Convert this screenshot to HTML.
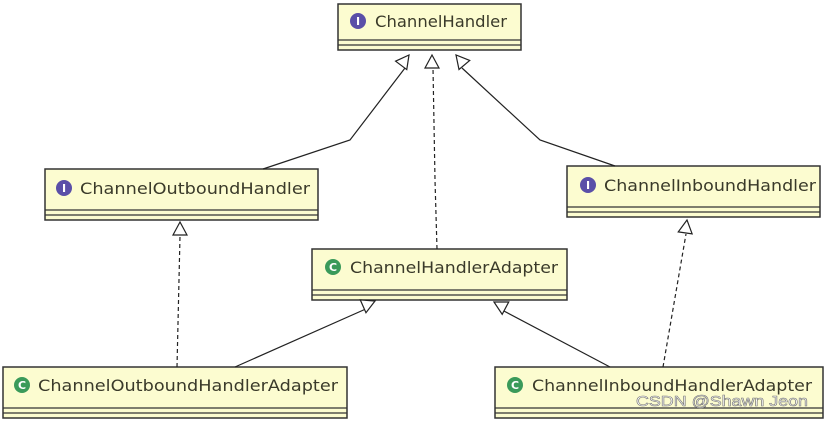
<!DOCTYPE html>
<html><head><style>
body{margin:0;background:#fff;width:827px;height:420px;overflow:hidden}
text{font-family:"DejaVu Sans","Liberation Sans",sans-serif;font-size:16px;fill:#3a3a2a}
</style></head><body>
<svg width="827" height="420" viewBox="0 0 827 420" xmlns="http://www.w3.org/2000/svg">
<defs>
<g id="tri"><polygon points="0,0 -7,13 7,13" fill="#fff" stroke="#222" stroke-width="1.2"/></g>
</defs>
<g fill="#fcfcd0" stroke="#333" stroke-width="1.5">
<rect x="338" y="4" width="183" height="46"/>
<rect x="45" y="169" width="273" height="51"/>
<rect x="567" y="166" width="253" height="51"/>
<rect x="312" y="249" width="255" height="51"/>
<rect x="3" y="367" width="344" height="51"/>
<rect x="495" y="367" width="328" height="51"/>
</g>
<g stroke="#333" stroke-width="1.3">
<line x1="338" y1="40" x2="521" y2="40"/><line x1="338" y1="45" x2="521" y2="45"/>
<line x1="45" y1="210" x2="318" y2="210"/><line x1="45" y1="215" x2="318" y2="215"/>
<line x1="567" y1="207" x2="820" y2="207"/><line x1="567" y1="212" x2="820" y2="212"/>
<line x1="312" y1="290" x2="567" y2="290"/><line x1="312" y1="295" x2="567" y2="295"/>
<line x1="3" y1="408" x2="347" y2="408"/><line x1="3" y1="413" x2="347" y2="413"/>
<line x1="495" y1="408" x2="823" y2="408"/><line x1="495" y1="413" x2="823" y2="413"/>
</g>
<g stroke="#222" stroke-width="1.2" fill="none">
<polyline points="263,169 350,140 405,68"/>
<polyline points="437,249 435,180 433,68" stroke-dasharray="4,3"/>
<polyline points="615,166 540,140 462,68"/>
<line x1="177" y1="367" x2="180" y2="236" stroke-dasharray="4,3"/>
<line x1="235" y1="367" x2="368" y2="308"/>
<line x1="610" y1="367" x2="502" y2="310"/>
<line x1="663" y1="367" x2="686" y2="234" stroke-dasharray="4,3"/>
</g>
<use href="#tri" transform="translate(409,55) rotate(37)"/>
<use href="#tri" transform="translate(432,55)"/>
<use href="#tri" transform="translate(456,55) rotate(-40)"/>
<use href="#tri" transform="translate(180,222)"/>
<use href="#tri" transform="translate(687,220) rotate(8)"/>
<use href="#tri" transform="translate(375,301) rotate(66)"/>
<use href="#tri" transform="translate(494,302) rotate(-62)"/>
<g text-anchor="middle">
<circle cx="358" cy="21" r="8" fill="#5a4fa8"/><text x="358" y="25" style="fill:#fff;font-size:11px;font-weight:bold">I</text>
<circle cx="64" cy="188" r="8" fill="#5a4fa8"/><text x="64" y="192" style="fill:#fff;font-size:11px;font-weight:bold">I</text>
<circle cx="588" cy="185" r="8" fill="#5a4fa8"/><text x="588" y="189" style="fill:#fff;font-size:11px;font-weight:bold">I</text>
<circle cx="333" cy="267" r="8" fill="#3a9a5a"/><text x="333" y="271" style="fill:#fff;font-size:11px;font-weight:bold">C</text>
<circle cx="22" cy="385" r="8" fill="#3a9a5a"/><text x="22" y="389" style="fill:#fff;font-size:11px;font-weight:bold">C</text>
<circle cx="515" cy="385" r="8" fill="#3a9a5a"/><text x="515" y="389" style="fill:#fff;font-size:11px;font-weight:bold">C</text>
</g>
<text x="375" y="27" textLength="132" lengthAdjust="spacingAndGlyphs">ChannelHandler</text>
<text x="80" y="194" textLength="230" lengthAdjust="spacingAndGlyphs">ChannelOutboundHandler</text>
<text x="604" y="191" textLength="212" lengthAdjust="spacingAndGlyphs">ChannelInboundHandler</text>
<text x="350" y="273" textLength="208" lengthAdjust="spacingAndGlyphs">ChannelHandlerAdapter</text>
<text x="38" y="391" textLength="300" lengthAdjust="spacingAndGlyphs">ChannelOutboundHandlerAdapter</text>
<text x="532" y="391" textLength="280" lengthAdjust="spacingAndGlyphs">ChannelInboundHandlerAdapter</text>
<text x="636" y="406" textLength="172" lengthAdjust="spacingAndGlyphs" style="fill:#fff;stroke:#777;stroke-width:0.6;font-size:15px;font-family:'Liberation Sans',sans-serif">CSDN @Shawn Jeon</text>
</svg>
</body></html>
